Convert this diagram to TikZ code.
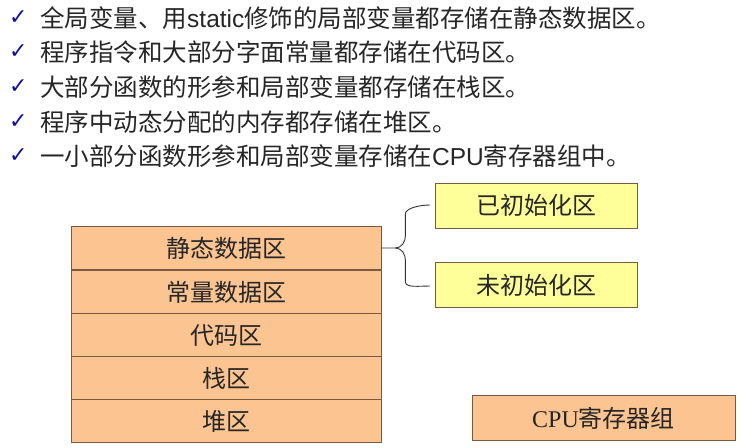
\documentclass[tikz,border=0pt]{standalone}
\usepackage{fontspec}
\setmainfont{Liberation Serif}
\newfontfamily\cjk{Noto Sans CJK SC}
\newfontfamily\djv{DejaVu Sans}
\newfontfamily\lsans{Liberation Sans}
\definecolor{orangefill}{HTML}{FBC491}
\definecolor{yellowfill}{HTML}{FFFF99}
\definecolor{boxline}{HTML}{7A5A40}
\definecolor{checkblue}{HTML}{1010A0}
\begin{document}
\begin{tikzpicture}[x=1pt,y=-1pt,
  seg/.style={draw=boxline,line width=0.8pt,fill=orangefill,minimum width=310pt,minimum height=43.5pt,inner sep=0pt,font=\cjk\fontsize{24}{26}\selectfont,text=black!85},
  ybox/.style={draw=boxline,line width=0.8pt,fill=yellowfill,minimum width=202pt,minimum height=45pt,inner sep=0pt,font=\cjk\fontsize{24}{26}\selectfont,text=black!85},
  line/.style={anchor=west,inner sep=0pt,font=\cjk\fontsize{24.5}{26}\selectfont,text=black!85},
  chk/.style={anchor=west,inner sep=0pt,font=\djv\bfseries\fontsize{22}{24}\selectfont,text=checkblue}]
\useasboundingbox (0,0) rectangle (743,447);
\foreach \yy/\t [count=\i] in {18/{全局变量、用{\lsans static}修饰的局部变量都存储在静态数据区。},
  52/{程序指令和大部分字面常量都存储在代码区。},
  87/{大部分函数的形参和局部变量都存储在栈区。},
  122/{程序中动态分配的内存都存储在堆区。},
  156/{一小部分函数形参和局部变量存储在{\lsans CPU}寄存器组中。}}{
  \node[chk] (c\i) at (9,\yy) {✓};
  \node[line] (l\i) at (40,\yy) {\t};
}
\node[seg] (s1) at (226,248) {静态数据区};
\node[seg] (s2) at (226,292) {常量数据区};
\node[seg] (s3) at (226,335.5) {代码区};
\node[seg] (s4) at (226,378.5) {栈区};
\node[seg] (s5) at (226,421) {堆区};
\node[ybox] (y1) at (536,205.5) {已初始化区};
\node[ybox] (y2) at (536,285) {未初始化区};
\node[draw=boxline,line width=0.8pt,fill=orangefill,minimum width=263pt,minimum height=45pt,inner sep=0pt,font=\fontsize{24}{26}\selectfont,text=black!85] (cpu) at (603.5,418) {CPU{\cjk 寄存器组}};
\draw[line width=0.9pt,black!80] (s1.east) -- ++(14,0) coordinate (bm)
  .. controls ++(6,0) and ++(0,6) .. ++(10,-12)
  -- ++(0,-22) .. controls ++(0,-6) and ++(-10,0) .. (430,205);
\draw[line width=0.9pt,black!80] (bm)
  .. controls ++(6,0) and ++(0,-6) .. ++(10,12)
  -- ++(0,22) .. controls ++(0,6) and ++(-10,0) .. (430,286);
\end{tikzpicture}
\end{document}
